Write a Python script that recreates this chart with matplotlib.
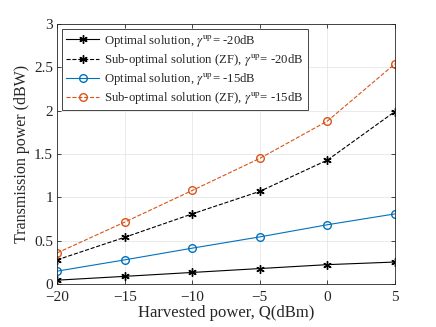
import matplotlib
matplotlib.use("Agg")
import matplotlib.pyplot as plt

q_dbm = [-20, -15, -10, -5, 0, 5]
opt_20 = [0.046, 0.09, 0.135, 0.18, 0.225, 0.255]
zf_20 = [0.28, 0.54, 0.81, 1.07, 1.43, 1.99]
opt_15 = [0.15, 0.28, 0.415, 0.545, 0.685, 0.81]
zf_15 = [0.36, 0.715, 1.08, 1.45, 1.88, 2.54]

plt.rcParams["font.family"] = ["Liberation Serif", "DejaVu Serif"]
plt.rcParams["mathtext.fontset"] = "stix"

fig = plt.figure(figsize=(4.36, 3.27), dpi=100)
ax = fig.add_axes([0.131, 0.131, 0.775, 0.796])

star = (6, 2, 0)
ax.plot(q_dbm, opt_20, "-", color="black", marker=star, ms=6, mew=1.0, lw=0.8,
        label=r"Optimal solution, $\gamma^{\rm up}$= -20dB")
ax.plot(q_dbm, zf_20, "--", color="black", marker=star, ms=6, mew=1.0, lw=0.8,
        label=r"Sub-optimal solution (ZF), $\gamma^{\rm up}$= -20dB")
ax.plot(q_dbm, opt_15, "-", color="#0072BD", marker="o", ms=5.5, mfc="none", lw=0.8,
        label=r"Optimal solution, $\gamma^{\rm up}$= -15dB")
ax.plot(q_dbm, zf_15, "--", color="#D95319", marker="o", ms=5.5, mfc="none", lw=0.8,
        label=r"Sub-optimal solution (ZF), $\gamma^{\rm up}$= -15dB")

ax.set_xlim(-20, 5)
ax.set_ylim(0, 3)
ax.set_xticks([-20, -15, -10, -5, 0, 5])
ax.set_yticks([0, 0.5, 1, 1.5, 2, 2.5, 3])
ax.set_yticklabels(["0", "0.5", "1", "1.5", "2", "2.5", "3"])
ax.grid(True, color="#e6e6e6", lw=0.6)
ax.set_axisbelow(True)
ax.tick_params(direction="in", top=True, right=True, labelsize=11, length=3,
               color="#262626", labelcolor="#262626", width=0.6)
ax.tick_params(axis="x", pad=5)
ax.tick_params(axis="y", pad=3)
for s in ax.spines.values():
    s.set_color("#262626")
    s.set_linewidth(0.6)

ax.set_xlabel("Harvested power, Q(dBm)", fontsize=12, labelpad=1, color="#262626")
ax.set_ylabel("Transmission power (dBW)", fontsize=11.5, labelpad=3, color="#262626")

leg = ax.legend(loc="upper left", fontsize=9.2, fancybox=False, framealpha=1,
                edgecolor="#262626", handlelength=2.6, borderaxespad=0.4,
                labelspacing=0.25, borderpad=0.3, handletextpad=0.4)
leg.get_frame().set_linewidth(0.6)
for t in leg.get_texts():
    t.set_color("#262626")

fig.savefig("out.png", dpi=100)
